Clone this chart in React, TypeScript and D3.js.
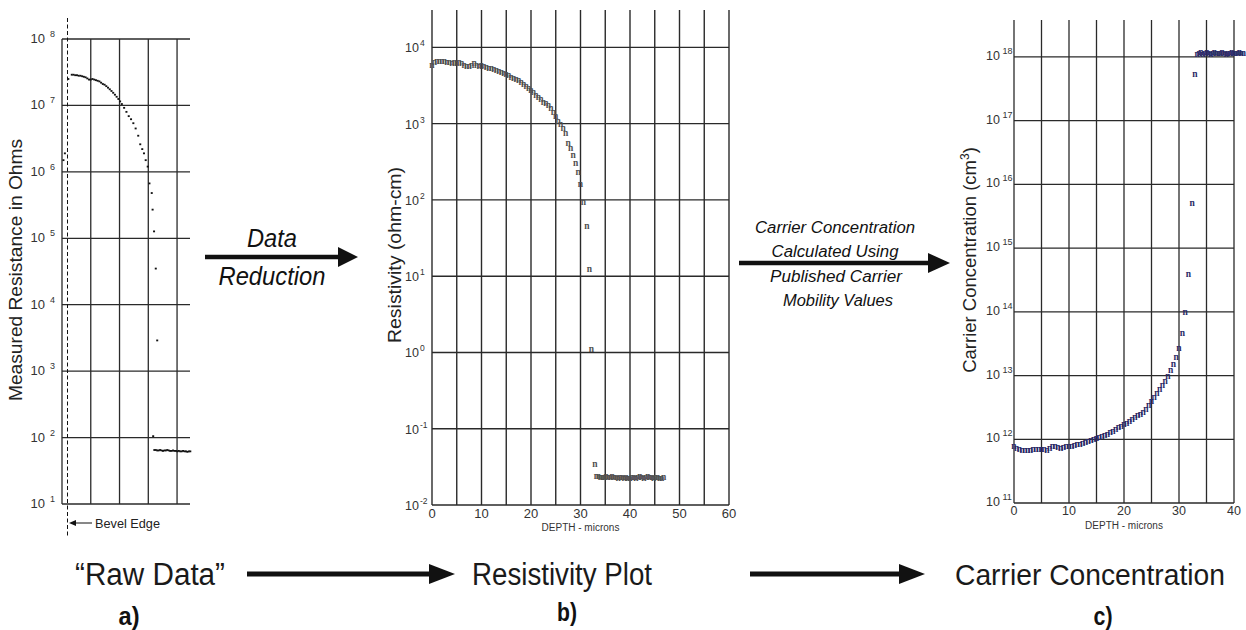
import React from "react";
import * as d3 from "d3";

// ---------- Panel a: raw spreading resistance (ohms) vs probe position (grid divisions)
const rawPos = [
  0.05, 0.1, 0.22, 0.34, 0.4, 0.46, 0.52, 0.58, 0.64, 0.7, 0.76, 0.82, 0.88, 0.94, 1.0, 1.06, 1.12,
  1.18, 1.24, 1.3, 1.36, 1.42, 1.48, 1.54, 1.6, 1.66, 1.72, 1.78, 1.84, 1.9, 1.96, 2.02, 2.08, 2.16,
  2.24, 2.32, 2.4, 2.48, 2.56, 2.65, 2.72, 2.79, 2.85, 2.91, 2.98, 3.04, 3.12, 3.15, 3.2, 3.26, 3.31,
  3.17,
  3.21, 3.26, 3.31, 3.36, 3.41, 3.46, 3.51, 3.56, 3.61, 3.66, 3.71, 3.76, 3.81, 3.86, 3.91, 3.96,
  4.01, 4.06, 4.11, 4.16, 4.21, 4.26, 4.31, 4.36, 4.41, 4.46,
];
const rawOhms = [
  1.5e6, 1.9e6, 2.5e7, 2.9e7, 2.9e7, 2.85e7, 2.85e7, 2.8e7, 2.8e7, 2.75e7, 2.7e7, 2.65e7, 2.55e7,
  2.45e7, 2.45e7, 2.5e7, 2.45e7, 2.4e7, 2.35e7, 2.3e7, 2.2e7, 2.1e7, 2.05e7, 1.95e7, 1.85e7, 1.75e7,
  1.65e7, 1.55e7, 1.45e7, 1.35e7, 1.25e7, 1.15e7, 1.05e7, 9.2e6, 8.0e6, 6.9e6, 6.2e6, 5.4e6, 4.5e6,
  3.5e6, 2.6e6, 2.2e6, 1.9e6, 1.5e6, 1.2e6, 6.7e5, 4.8e5, 2.7e5, 1.27e5, 3.5e4, 2.9e3,
  105,
  65, 65, 64, 64, 65, 64, 63, 64, 64, 65, 64, 63, 63, 64, 63, 63, 62, 63, 62, 62, 63, 62, 62, 61, 62, 62,
];
const rawDecades = [1, 2, 3, 4, 5, 6, 7, 8];
const rawGrid = [0, 1, 2, 3, 4];

// ---------- Panel b: resistivity (ohm-cm) vs depth (microns)
const resDepth = [
  0, 0.5, 1, 1.5, 2, 2.5, 3, 3.5, 4, 4.5, 5, 5.5, 6, 6.5, 7, 7.5, 8, 8.5, 9, 9.5, 10, 10.5, 11, 11.5,
  12, 12.5, 13, 13.5, 14, 14.5, 15, 15.5, 16, 16.5, 17, 17.5, 18, 18.5, 19, 19.5, 20, 20.5, 21, 21.5,
  22, 22.5, 23, 23.5, 24, 24.5, 25, 25.5, 26, 26.5, 27, 27.5, 28, 28.5, 29, 29.5, 30, 30.6, 31.3,
  31.8, 32.2, 32.9,
  33.2, 33.6, 34.0, 34.4, 34.8, 35.2, 35.6, 36.0, 36.4, 36.8, 37.2, 37.6, 38.0, 38.4, 38.8, 39.2,
  39.6, 40.0, 40.4, 40.8, 41.2, 41.6, 42.0, 42.4, 42.8, 43.2, 43.6, 44.0, 44.4, 44.8, 45.2, 45.6,
  46.0, 46.4, 46.8,
];
const resOhmCm = [
  5.7e3, 6.2e3, 6.5e3, 6.5e3, 6.4e3, 6.4e3, 6.3e3, 6.2e3, 6.1e3, 6.2e3, 6.1e3, 6.2e3, 6.0e3, 5.8e3,
  5.6e3, 5.5e3, 5.8e3, 6.0e3, 5.7e3, 5.5e3, 5.7e3, 5.6e3, 5.4e3, 5.3e3, 5.2e3, 5.1e3, 4.9e3, 4.8e3,
  4.6e3, 4.5e3, 4.4e3, 4.2e3, 4.0e3, 3.9e3, 3.75e3, 3.6e3, 3.4e3, 3.2e3, 3.0e3, 2.85e3, 2.7e3,
  2.5e3, 2.35e3, 2.2e3, 2.05e3, 1.9e3, 1.8e3, 1.7e3, 1.55e3, 1.4e3, 1.23e3, 1.05e3, 960, 850, 730,
  540, 470, 380, 300, 230, 160, 93, 45, 12, 1.07, 0.034,
  0.0235, 0.0232, 0.0228, 0.0226, 0.023, 0.0234, 0.0228, 0.0224, 0.0233, 0.0229, 0.0226, 0.0222,
  0.023, 0.0227, 0.0221, 0.0225, 0.0222, 0.022, 0.0224, 0.0226, 0.0222, 0.0225, 0.0231, 0.0228,
  0.0223, 0.0226, 0.0232, 0.0229, 0.0224, 0.0221, 0.0225, 0.0228, 0.0223, 0.0221, 0.0224,
];
const resDecades = [-2, -1, 0, 1, 2, 3, 4];
const resDepthTicks = [0, 10, 20, 30, 40, 50, 60];
const resGrid = [0, 5, 10, 15, 20, 25, 30, 35, 40, 45, 50, 55, 60];

// ---------- Panel c: carrier concentration (cm^-3) vs depth (microns)
const concDepth = [
  0, 0.5, 1, 1.5, 2, 2.5, 3, 3.5, 4, 4.5, 5, 5.5, 6, 6.5, 7, 7.5, 8, 8.5, 9, 9.5, 10, 10.5, 11, 11.5,
  12, 12.5, 13, 13.5, 14, 14.5, 15, 15.5, 16, 16.5, 17, 17.5, 18, 18.5, 19, 19.5, 20, 20.5, 21, 21.5,
  22, 22.5, 23, 23.5, 24, 24.5, 25, 25.5, 26, 26.5, 27, 27.5, 28, 28.5, 29, 29.5, 30, 30.6, 31.1,
  31.7, 32.4, 32.9,
  33.3, 33.65, 34.0, 34.35, 34.7, 35.05, 35.4, 35.75, 36.1, 36.45, 36.8, 37.15, 37.5, 37.85, 38.2,
  38.55, 38.9, 39.25, 39.6, 39.95, 40.3, 40.65, 41.0, 41.35, 41.7,
];
const concPerCm3 = [
  7.6e11, 7.2e11, 6.9e11, 6.6e11, 6.6e11, 6.7e11, 6.7e11, 6.8e11, 6.9e11, 6.8e11, 6.9e11, 6.8e11,
  6.7e11, 7.0e11, 7.5e11, 7.7e11, 7.3e11, 7.1e11, 7.4e11, 7.7e11, 7.6e11, 7.7e11, 7.9e11, 8.1e11,
  8.3e11, 8.6e11, 8.9e11, 9.2e11, 9.4e11, 9.7e11, 1.0e12, 1.04e12, 1.09e12, 1.14e12, 1.19e12,
  1.25e12, 1.32e12, 1.4e12, 1.5e12, 1.58e12, 1.68e12, 1.78e12, 1.9e12, 2.0e12, 2.15e12, 2.3e12,
  2.45e12, 2.65e12, 2.9e12, 3.3e12, 3.9e12, 4.5e12, 5.2e12, 6.0e12, 6.9e12, 8.1e12, 9.6e12, 1.2e13,
  1.45e13, 1.9e13, 2.6e13, 4.6e13, 9.5e13, 3.8e14, 4.9e15, 5.2e17,
  1.08e18, 1.12e18, 1.15e18, 1.1e18, 1.13e18, 1.16e18, 1.12e18, 1.1e18, 1.14e18, 1.17e18, 1.13e18,
  1.11e18, 1.12e18, 1.15e18, 1.13e18, 1.1e18, 1.12e18, 1.14e18, 1.16e18, 1.13e18, 1.11e18, 1.12e18,
  1.15e18, 1.14e18, 1.12e18,
];
const concDecades = [11, 12, 13, 14, 15, 16, 17, 18];
const concDepthTicks = [0, 10, 20, 30, 40];
const concGrid = [0, 5, 10, 15, 20, 25, 30, 35, 40];

const SANS = "'Liberation Sans Narrow', 'Liberation Sans', Arial, sans-serif";
const SANSW = "'Liberation Sans', Arial, sans-serif";

function Arrow({ x1, x2, y, w, head, half }: { x1: number; x2: number; y: number; w: number; head: number; half: number }) {
  return (
    <g fill="#111">
      <rect x={x1} y={y - w / 2} width={x2 - head - x1 + 1} height={w} />
      <polygon points={`${x2 - head},${y - half} ${x2},${y} ${x2 - head},${y + half}`} />
    </g>
  );
}

export default function App() {
  // scales
  const xA = d3.scaleLinear().domain([0, 4.45]).range([62, 190]);
  const yA = d3.scaleLog().domain([10, 1e8]).range([504, 39]);
  const xB = d3.scaleLinear().domain([0, 60]).range([432, 729]);
  const yB = d3.scaleLog().domain([1e-2, Math.pow(10, 4.49)]).range([505, 10]);
  const xC = d3.scaleLinear().domain([0, 40]).range([1014, 1234]);
  const yC = d3.scaleLog().domain([1e11, Math.pow(10, 18.58)]).range([503, 20]);

  const gridStroke = "#2a2a2a";

  return (
    <div style={{ position: "absolute", left: 0, top: 0 }}>
      <svg width={1246} height={630} viewBox="0 0 1246 630" style={{ display: "block", background: "#fff" }}>
        <rect width={1246} height={630} fill="#fff" />

        {/* ================= Panel a ================= */}
        <g>
          {rawDecades.map((d) => (
            <line key={"ah" + d} x1={xA(0)} x2={xA(4.45)} y1={yA(Math.pow(10, d))} y2={yA(Math.pow(10, d))} stroke={gridStroke} strokeWidth={1.3} />
          ))}
          {rawGrid.map((g) => (
            <line key={"av" + g} x1={xA(g)} x2={xA(g)} y1={yA(1e8)} y2={yA(10)} stroke={gridStroke} strokeWidth={1.3} />
          ))}
          {rawDecades.map((d) => (
            <g key={"at" + d} fill="#333" fontFamily={SANS}>
              <text x={45} y={yA(Math.pow(10, d)) + 4} fontSize={13} textAnchor="end">10</text>
              <text x={50} y={yA(Math.pow(10, d)) - 2} fontSize={9}>{d}</text>
            </g>
          ))}
          {/* bevel edge dashed line */}
          <line x1={67.5} x2={67.5} y1={18} y2={536} stroke="#111" strokeWidth={1} strokeDasharray="4 2.5" />
          {rawPos.map((p, i) => (
            <rect key={"ad" + i} x={xA(p) - 1} y={yA(rawOhms[i]) - 0.9} width={2} height={1.8} fill="#111" />
          ))}
          <text transform="translate(22,270) rotate(-90)" textAnchor="middle" fontFamily={SANSW} fontSize={18.5} fill="#222" textLength={262} lengthAdjust="spacingAndGlyphs">
            Measured Resistance in Ohms
          </text>
          {/* Bevel edge label */}
          <line x1={74} x2={92} y1={523} y2={523} stroke="#111" strokeWidth={1} />
          <polygon points="69,523 76,520 76,526" fill="#111" />
          <text x={95} y={528} fontFamily={SANSW} fontSize={13.5} fill="#222" textLength={65} lengthAdjust="spacingAndGlyphs">Bevel Edge</text>
        </g>

        {/* Data Reduction arrow */}
        <text x={272} y={247} textAnchor="middle" fontFamily={SANSW} fontStyle="italic" fontSize={25} fill="#111" textLength={50} lengthAdjust="spacingAndGlyphs">Data</text>
        <Arrow x1={205} x2={358} y={257} w={4.5} head={20} half={10} />
        <text x={272} y={285} textAnchor="middle" fontFamily={SANSW} fontStyle="italic" fontSize={25} fill="#111" textLength={107} lengthAdjust="spacingAndGlyphs">Reduction</text>

        {/* ================= Panel b ================= */}
        <g>
          {resDecades.map((d) => (
            <line key={"bh" + d} x1={xB(0)} x2={xB(60)} y1={yB(Math.pow(10, d))} y2={yB(Math.pow(10, d))} stroke={gridStroke} strokeWidth={1.4} />
          ))}
          {resGrid.map((g) => (
            <line key={"bv" + g} x1={xB(g)} x2={xB(g)} y1={yB(Math.pow(10, 4.49))} y2={yB(1e-2)} stroke={gridStroke} strokeWidth={1.4} />
          ))}
          {resDecades.map((d) => (
            <g key={"bt" + d} fill="#333" fontFamily={SANS}>
              <text x={419} y={yB(Math.pow(10, d)) + 5} fontSize={12.5} textAnchor="end">10</text>
              <text x={420} y={yB(Math.pow(10, d)) - 1} fontSize={8.5}>{d}</text>
            </g>
          ))}
          {resDepthTicks.map((t) => (
            <text key={"bx" + t} x={xB(t)} y={518} textAnchor="middle" fontFamily={SANS} fontSize={13} fill="#333">{t}</text>
          ))}
          <text x={xB(30)} y={531} textAnchor="middle" fontFamily={SANS} fontSize={10} fill="#333">DEPTH - microns</text>
          <text transform="translate(401,255) rotate(-90)" textAnchor="middle" fontFamily={SANSW} fontSize={18.5} fill="#222" textLength={176} lengthAdjust="spacingAndGlyphs">
            {"Resistivity  (ohm-cm)"}
          </text>
          {resDepth.map((x, i) => (
            <text key={"bm" + i} x={xB(x)} y={yB(resOhmCm[i]) + 2.2} textAnchor="middle" fontFamily="'Liberation Serif', serif" fontWeight="bold" fontSize={9.5} fill="#505050">n</text>
          ))}
        </g>

        {/* Carrier concentration arrow */}
        <g fontFamily={SANSW} fontStyle="italic" fill="#111" textAnchor="middle">
          <text x={835} y={233} fontSize={16} textLength={160} lengthAdjust="spacingAndGlyphs">Carrier Concentration</text>
          <text x={835} y={257} fontSize={16} textLength={127} lengthAdjust="spacingAndGlyphs">Calculated Using</text>
          <text x={836} y={282} fontSize={16} textLength={132} lengthAdjust="spacingAndGlyphs">Published Carrier</text>
          <text x={838} y={306} fontSize={16} textLength={110} lengthAdjust="spacingAndGlyphs">Mobility Values</text>
        </g>
        <Arrow x1={739} x2={950} y={263} w={4.5} head={22} half={10} />

        {/* ================= Panel c ================= */}
        <g>
          {concDecades.map((d) => (
            <line key={"ch" + d} x1={xC(0)} x2={xC(40)} y1={yC(Math.pow(10, d))} y2={yC(Math.pow(10, d))} stroke={gridStroke} strokeWidth={1.3} />
          ))}
          {concGrid.map((g) => (
            <line key={"cv" + g} x1={xC(g)} x2={xC(g)} y1={yC(Math.pow(10, 18.58))} y2={yC(1e11)} stroke={gridStroke} strokeWidth={1.3} />
          ))}
          {concDecades.map((d) => (
            <g key={"ct" + d} fill="#333" fontFamily={SANS}>
              <text x={1000} y={yC(Math.pow(10, d)) + 3} fontSize={12.5} textAnchor="end">10</text>
              <text x={1002.5} y={yC(Math.pow(10, d)) - 3} fontSize={9}>{d}</text>
            </g>
          ))}
          {concDepthTicks.map((t) => (
            <text key={"cx" + t} x={xC(t)} y={515} textAnchor="middle" fontFamily={SANS} fontSize={12.5} fill="#333">{t}</text>
          ))}
          <text x={xC(20)} y={529} textAnchor="middle" fontFamily={SANS} fontSize={10} fill="#333">DEPTH - microns</text>
          <text transform="translate(976,260) rotate(-90)" textAnchor="middle" fontFamily={SANSW} fontSize={18.5} fill="#222">
            {"Carrier Concentration  (cm"}
            <tspan dy={-7} fontSize={12}>3</tspan>
            <tspan dy={7}>)</tspan>
          </text>
          {concDepth.map((x, i) => (
            <text key={"cm" + i} x={xC(x)} y={yC(concPerCm3[i]) + 2.2} textAnchor="middle" fontFamily="'Liberation Serif', serif" fontWeight="bold" fontSize={9.5} fill="#2a2a66">n</text>
          ))}
        </g>

        {/* ================= Bottom flow ================= */}
        <g fontFamily={SANSW} fill="#1a1a1a" fontSize={31}>
          <text x={150} y={585} textAnchor="middle" textLength={150} lengthAdjust="spacingAndGlyphs">“Raw Data”</text>
          <text x={562} y={585} textAnchor="middle" textLength={180} lengthAdjust="spacingAndGlyphs">Resistivity Plot</text>
          <text x={1090} y={585} textAnchor="middle" fontSize={29} textLength={270} lengthAdjust="spacingAndGlyphs">Carrier Concentration</text>
        </g>
        <Arrow x1={247} x2={455} y={574} w={5} head={26} half={10} />
        <Arrow x1={750} x2={925} y={574} w={5} head={26} half={10} />
        <g fontFamily={SANSW} fontWeight="bold" fill="#111" fontSize={25} textAnchor="middle">
          <text x={129} y={625} textLength={21} lengthAdjust="spacingAndGlyphs">a)</text>
          <text x={567} y={621} textLength={20} lengthAdjust="spacingAndGlyphs">b)</text>
          <text x={1103} y={625} textLength={19} lengthAdjust="spacingAndGlyphs">c)</text>
        </g>
      </svg>
    </div>
  );
}
